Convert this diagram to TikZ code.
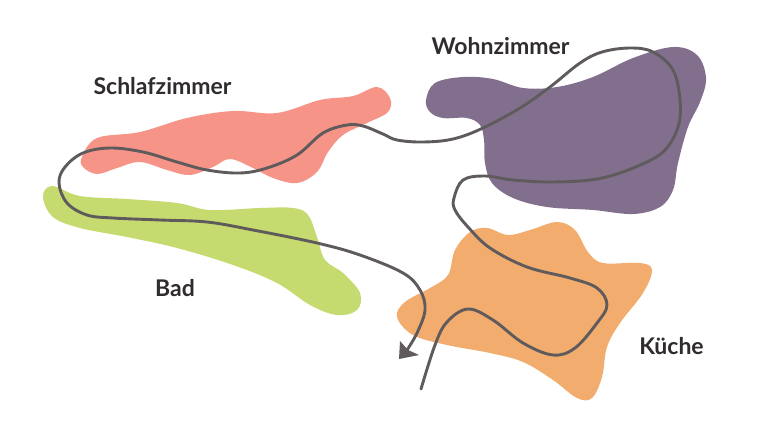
\documentclass[tikz,border=0pt]{standalone}
\usepackage{fontspec}
\setmainfont{Lato}
\definecolor{pinkroom}{HTML}{F69488}
\definecolor{greenroom}{HTML}{C5DA6F}
\definecolor{purpleroom}{HTML}{826F8E}
\definecolor{orangeroom}{HTML}{F2AD6E}
\definecolor{routeline}{HTML}{5F5B5D}
\definecolor{labeltext}{HTML}{2F2B2E}
\tikzset{
  blob/.style={draw=none,smooth cycle,tension=0.6},
  roomlabel/.style={text=labeltext,font=\fontsize{23}{26}\selectfont\bfseries,inner sep=0pt,anchor=center},
  routestyle/.style={draw=routeline,line width=2.9pt,line cap=round,line join=round}
}
\begin{document}
\begin{tikzpicture}[x=1pt,y=-1pt]
\useasboundingbox (0,0) rectangle (760,432);
\fill[white] (0,0) rectangle (760,432);
\fill[pinkroom] plot[smooth cycle,tension=0.6] coordinates {(82,157)(97,138)(140,132)(187,118)(233,111)(277,113)(320,100)(353,96)(377,87)(390,98)(388,112)(367,123)(343,135)(328,152)(317,172)(297,183)(273,178)(253,168)(230,159)(213,167)(190,175)(167,170)(140,162)(117,168)(97,174)(83,167)};
\fill[greenroom] plot[smooth cycle,tension=0.6] coordinates {(43,197)(52,186)(80,196)(127,199)(177,203)(210,210)(260,208)(293,208)(308,215)(317,237)(325,260)(343,273)(360,293)(357,310)(337,315)(310,305)(277,283)(233,265)(177,248)(127,237)(80,228)(53,217)};
\fill[purpleroom] plot[smooth cycle,tension=0.6] coordinates {(426,100)(435,83)(463,77)(493,79)(523,88)(557,87)(593,77)(633,58)(673,47)(697,55)(706,78)(700,102)(688,127)(678,163)(673,190)(660,207)(633,214)(593,210)(547,207)(513,198)(492,183)(485,163)(484,140)(480,125)(467,118)(443,118)(430,112)};
\fill[orangeroom] plot[smooth cycle,tension=0.6] coordinates {(397,317)(405,302)(430,288)(448,275)(455,250)(470,232)(487,228)(508,235)(530,230)(557,222)(575,230)(588,252)(603,263)(640,263)(652,270)(643,293)(620,323)(607,347)(602,377)(592,398)(577,398)(553,380)(523,362)(490,353)(447,345)(413,335)};
\draw[routestyle] plot[smooth,tension=0.6] coordinates {(421,389)(435,345)(447,322)(468,309)(493,320)(523,343)(553,355)(575,348)(597,323)(607,305)(597,288)(570,278)(527,267)(490,248)(468,227)(455,210)(454,198)(463,180)(485,176)(513,180)(553,182)(597,179)(633,168)(663,152)(678,127)(680,100)(673,70)(653,52)(630,48)(602,52)(580,63)(550,87)(520,108)(483,128)(453,139)(423,142)(397,140)(383,134)(363,126)(347,125)(323,133)(297,155)(267,168)(240,173)(207,170)(177,162)(143,152)(110,148)(83,153)(65,167)(59,183)(67,203)(87,215)(113,218)(160,220)(207,222)(253,230)(317,243)(360,255)(403,273)(420,290)(425,310)(417,333)(407,350)};
\fill[routeline] (399,359) -- (400,341) -- (408,350) -- (419,355) -- cycle;
\node[roomlabel] (schlaf) at (162.5,86) {Schlafzimmer};
\node[roomlabel] (wohn) at (500.5,46) {Wohnzimmer};
\node[roomlabel] (bad) at (175,288) {Bad};
\node[roomlabel] (kueche) at (671.5,346) {Küche};
\end{tikzpicture}
\end{document}
